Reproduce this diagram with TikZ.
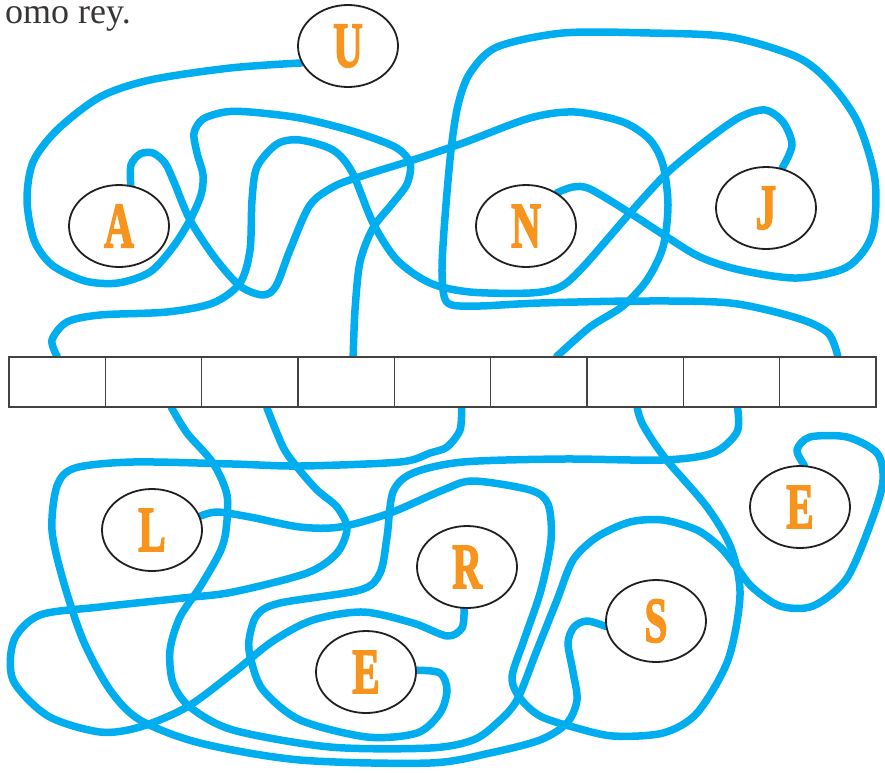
\documentclass[tikz,border=0pt]{standalone}
\usepackage{fontspec}
\usepackage{graphicx}
\setmainfont{Liberation Serif}
\newfontfamily\lfont{Liberation Serif}[UprightFont={* Bold}, UprightFeatures={FakeBold=3}]
\usetikzlibrary{shapes.geometric}
\pgfdeclarelayer{bg}
\pgfsetlayers{bg,main}
\definecolor{wire}{HTML}{00AEEF}
\definecolor{ltr}{HTML}{F7941D}
\definecolor{ink}{HTML}{231F20}
\newcommand\sqz[1]{\scalebox{0.64}[1]{#1}}
\begin{document}
\begin{tikzpicture}[x=1pt,y=-1pt,
  letter/.style={ellipse, draw=ink, line width=1.8pt, fill=white, minimum width=100pt, minimum height=82pt, inner sep=0pt, text=ltr, font=\lfont\fontsize{64}{64}\selectfont},
  cell/.style={draw=ink!85, line width=1.3pt, fill=white, minimum width=96.33pt, minimum height=50pt, inner sep=0pt},
  wireline/.style={draw=wire, line width=7.5pt, line cap=round, line join=round}]
\useasboundingbox (0,0) rectangle (885,772);

\node[anchor=base east, inner sep=0pt, text=ink!90, font=\fontsize{36}{36}\selectfont] (title) at (131,23) {omo rey.};

\node[letter] (U) at (348,46) {\sqz{U}};
\node[letter] (A) at (119,226) {\sqz{A}};
\node[letter] (N) at (526,226) {\sqz{N}};
\node[letter] (J) at (766,208) {\sqz{J}};
\node[letter] (L) at (152,530) {\sqz{L}};
\node[letter] (R) at (467,567) {\sqz{R}};
\node[letter] (E2) at (366,672) {\sqz{E}};
\node[letter] (S) at (656,621) {\sqz{S}};
\node[letter] (E1) at (800,507) {\sqz{E}};

\foreach \i in {1,...,9} \node[cell] (b\i) at ({9+96.333*(\i-0.5)},382) {};

\coordinate (t1) at (b1.north);
\coordinate (t4) at ([xshift=7pt]b4.north);
\coordinate (t6) at ([xshift=18pt]b6.north);
\coordinate (t9) at ([xshift=10pt]b9.north);
\coordinate (d2) at ([xshift=18pt]b2.south);
\coordinate (d3) at ([xshift=17pt]b3.south);
\coordinate (d5) at ([xshift=19pt]b5.south);
\coordinate (d7) at ([xshift=2pt]b7.south);
\coordinate (d8) at ([xshift=6pt]b8.south);

\begin{pgfonlayer}{bg}
% U -> box 4
\draw[wireline] plot[smooth] coordinates {(U.200) (230,68) (150,80) (100,97) (57,130) (33,162) (27,200) (34,240) (52,265) (85,281) (118,283) (150,272) (173,247) (190,220) (201,195) (203,175) (197,153) (194,133) (203,119) (225,112) (250,112) (300,118) (352,131) (395,147) (410,163) (407,184) (392,204) (373,228) (360,262) (355,310) (t4)};
% A -> box 6
\draw[wireline] plot[smooth] coordinates {(A.74) (131,165) (140,154) (153,153) (165,163) (174,182) (190,220) (215,258) (240,286) (263,295) (276,286) (290,250) (310,205) (335,186) (365,175) (413,160) (463,143) (530,118) (575,112) (623,122) (650,140) (663,165) (668,205) (663,247) (647,280) (623,306) (590,327) (t6)};
% box 1 -> J
\draw[wireline] plot[smooth] coordinates {(t1) (52,340) (67,322) (100,315) (167,312) (213,303) (240,283) (250,250) (252,200) (257,167) (277,144) (300,140) (333,150) (352,172) (373,223) (397,260) (430,283) (470,292) (530,293) (560,287) (583,267) (630,213) (667,173) (707,140) (740,117) (765,110) (783,122) (792,145) (J.68)};
% N -> box 9
\draw[wireline] plot[smooth] coordinates {(N.47) (573,187) (590,189) (630,213) (667,237) (700,257) (740,270) (797,278) (847,267) (872,235) (875,180) (858,123) (830,83) (797,57) (730,37) (650,33) (563,33) (497,47) (470,73) (458,105) (451,150) (445,217) (442,267) (444,296) (452,305) (480,306) (540,303) (640,301) (730,303) (797,318) (828,333) (t9)};
% L -> box 7
\draw[wireline] plot[smooth] coordinates {(L.16) (217,512) (250,517) (300,527) (340,527) (390,513) (443,490) (473,481) (530,490) (548,504) (551,540) (541,590) (524,640) (512,677) (520,698) (540,716) (573,727) (613,736) (663,733) (697,713) (728,660) (740,595) (731,548) (707,507) (665,458) (643,425) (d7)};
% box 3 -> R
\draw[wireline] plot[smooth] coordinates {(d3) (283,447) (297,467) (317,490) (337,507) (347,528) (337,553) (307,573) (233,592) (183,598) (100,607) (40,615) (14,640) (13,680) (48,716) (100,732) (140,727) (187,707) (233,673) (273,641) (313,620) (363,612) (413,623) (447,636) (462,628) (R.266)};
% box 5 -> S
\draw[wireline] plot[smooth] coordinates {(d5) (460,430) (447,447) (430,453) (400,462) (300,466) (233,464) (133,462) (75,468) (57,486) (52,530) (63,580) (83,640) (110,690) (140,720) (200,743) (300,760) (430,763) (490,753) (540,740) (567,723) (577,700) (573,672) (568,643) (574,627) (587,621) (S.186)};
% box 8 -> lower E
\draw[wireline] plot[smooth] coordinates {(d8) (737,432) (713,453) (663,460) (563,459) (463,462) (413,473) (393,492) (387,537) (380,573) (360,590) (280,603) (257,615) (249,640) (251,660) (263,690) (300,720) (367,737) (417,733) (440,713) (447,690) (440,673) (E2.2)};
% box 2 -> right E
\draw[wireline] plot[smooth] coordinates {(d2) (187,433) (213,463) (227,495) (226,530) (220,552) (200,587) (180,617) (170,650) (173,683) (190,707) (233,730) (330,747) (430,748) (473,740) (497,723) (517,700) (537,650) (557,600) (573,560) (597,537) (630,522) (663,520) (697,530) (720,547) (735,565) (752,587) (780,606) (813,606) (847,578) (873,517) (883,480) (877,453) (847,437) (810,437) (797,450) (E1.84)};
\end{pgfonlayer}
\end{tikzpicture}
\end{document}
